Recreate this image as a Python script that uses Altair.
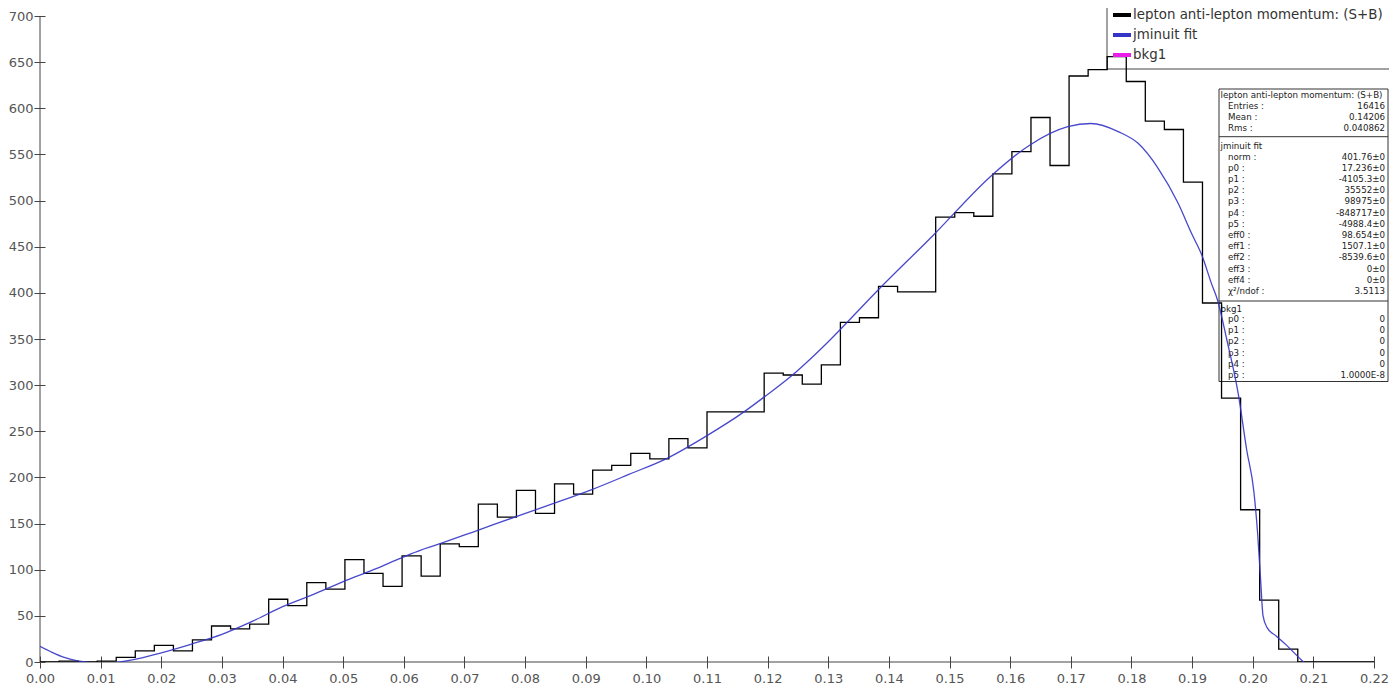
import altair as alt
import pandas as pd

# ---------------- data ----------------
N_BINS = 70
X_MIN, X_MAX = 0.0, 0.22

counts = [0, 1, 0, 1, 5, 12, 18, 12, 24, 39,
          36, 41, 68, 61, 86, 79, 111, 96, 82, 115,
          93, 128, 125, 171, 157, 186, 161, 193, 182, 208,
          213, 226, 220, 242, 232, 271, 271, 271, 313, 311,
          301, 322, 368, 373, 407, 401, 401, 482, 487, 483,
          529, 553, 590, 538, 635, 642, 656, 629, 586, 577,
          520, 389, 286, 165, 67, 14, 0, 0, 0, 0]

fit_x = [0.000, 0.002, 0.004, 0.006, 0.0075, 0.010, 0.0125, 0.015, 0.020, 0.025,
         0.030, 0.035, 0.040, 0.045, 0.050, 0.055, 0.060, 0.0627, 0.065, 0.0723,
         0.0783, 0.0846, 0.0909, 0.0972, 0.1035, 0.1098, 0.1161, 0.1194, 0.1243, 0.127,
         0.130, 0.1379, 0.1474, 0.1569, 0.1632, 0.1695, 0.1733, 0.1779, 0.1811, 0.1844,
         0.1877, 0.1899, 0.1916, 0.1932, 0.1942, 0.1957, 0.1976, 0.1990, 0.2002, 0.2008,
         0.2013, 0.2017, 0.2024, 0.2039, 0.2056, 0.2079, 0.2084]
fit_y = [17, 10.5, 5, 1.5, 0, -2, -0.5, 2, 10, 19.5,
         30, 44, 60, 73, 87, 100, 114, 121, 126, 143,
         157, 171.5, 186.5, 203.5, 221, 244.5, 271, 287, 312, 328,
         347, 401, 463, 527, 560, 580, 583.5, 574.5, 562, 535,
         497, 464.5, 441, 410, 392, 350, 291, 230, 184, 140,
         89, 50, 37, 28, 18, 3, 0]

series_names = ["lepton anti-lepton momentum: (S+B)", "jminuit fit", "bkg1"]
series_colors = ["#000000", "#3434c6", "#e81ee8"]

x_ticks = [0.00, 0.01, 0.02, 0.03, 0.04, 0.05, 0.06, 0.07, 0.08, 0.09, 0.10,
           0.11, 0.12, 0.13, 0.14, 0.15, 0.16, 0.17, 0.18, 0.19, 0.20, 0.21, 0.22]
y_ticks = [0, 50, 100, 150, 200, 250, 300, 350, 400, 450, 500, 550, 600, 650, 700]

# statistics box text
stat1_title = "lepton anti-lepton momentum: (S+B)"
stat1_labels = ["Entries :", "Mean :", "Rms :"]
stat1_values = ["16416", "0.14206", "0.040862"]
stat2_title = "jminuit fit"
stat2_labels = ["norm :", "p0 :", "p1 :", "p2 :", "p3 :", "p4 :", "p5 :",
                "eff0 :", "eff1 :", "eff2 :", "eff3 :", "eff4 :", "\u03c7\u00b2/ndof :"]
stat2_values = ["401.76\u00b10", "17.236\u00b10", "-4105.3\u00b10", "35552\u00b10",
                "98975\u00b10", "-848717\u00b10", "-4988.4\u00b10", "98.654\u00b10",
                "1507.1\u00b10", "-8539.6\u00b10", "0\u00b10", "0\u00b10", "3.5113"]
stat3_title = "bkg1"
stat3_labels = ["p0 :", "p1 :", "p2 :", "p3 :", "p4 :", "p5 :"]
stat3_values = ["0", "0", "0", "0", "0", "1.0000E-8"]

# ---------------- tables ----------------
bw = (X_MAX - X_MIN) / N_BINS
edges = [X_MIN + i * bw for i in range(N_BINS + 1)]
hist_df = pd.DataFrame({
    "x": edges,
    "y": counts + [counts[-1]],
    "series": series_names[0],
})
fit_df = pd.DataFrame({"x": fit_x, "y": fit_y, "series": series_names[1]})
one = pd.DataFrame({"k": [0]})

FONT = "DejaVu Sans"
xscale = alt.Scale(domain=[X_MIN, X_MAX], nice=False, zero=False)
yscale = alt.Scale(domain=[0, 700], nice=False)
color_scale = alt.Scale(domain=series_names, range=series_colors)

xaxis = alt.Axis(values=x_ticks, format=".2f", title=None, grid=False, domain=False,
                 offset=-6, tickSize=12, labelPadding=4, labelOverlap=False,
                 labelFlush=False, labelBound=False)
yaxis = alt.Axis(values=y_ticks, format="d", title=None, grid=False, domain=False,
                 offset=-5, tickSize=11, labelPadding=1, labelOverlap=False,
                 labelFlush=False, labelBound=False)

legend = alt.Legend(orient="none", legendX=1066, legendY=-17, title=None,
                    symbolType="stroke", symbolSize=324, symbolStrokeWidth=4,
                    labelFont=FONT, labelFontSize=13.4, labelColor="#333",
                    labelLimit=500, labelOffset=0, rowPadding=1, padding=5)

# legend frame (left and bottom edges; the rest lies outside the picture)
LEG_X0, LEG_Y0, LEG_Y1, LEG_X1 = 1067, -20, 53, 1370
leg_left = alt.Chart(one).mark_rule(color="#444", strokeWidth=1).encode(
    x=alt.value(LEG_X0), y=alt.value(LEG_Y0), y2=alt.value(LEG_Y1))
leg_bottom = alt.Chart(one).mark_rule(color="#444", strokeWidth=1).encode(
    x=alt.value(LEG_X0), x2=alt.value(LEG_X1), y=alt.value(LEG_Y1))

# ---------------- stats box ----------------
BOX_X0, BOX_X1, BOX_Y0, BOX_Y1 = 1179, 1348, 73, 365.5
box = alt.Chart(one).mark_rect(fill="white", stroke="#333", strokeWidth=1).encode(
    x=alt.value(BOX_X0), x2=alt.value(BOX_X1), y=alt.value(BOX_Y0), y2=alt.value(BOX_Y1))
sep1 = alt.Chart(one).mark_rule(color="#333", strokeWidth=1).encode(
    x=alt.value(BOX_X0), x2=alt.value(BOX_X1), y=alt.value(120.7))
sep2 = alt.Chart(one).mark_rule(color="#333", strokeWidth=1).encode(
    x=alt.value(BOX_X0), x2=alt.value(BOX_X1), y=alt.value(285))

SF = 8.7
LH = 11.2
def txt(lines, x, y, align):
    return alt.Chart(one).mark_text(
        text=lines, align=align, baseline="top", font=FONT, fontSize=SF,
        lineHeight=LH, color="#222").encode(x=alt.value(x), y=alt.value(y))

def title(s, x, y):
    return alt.Chart(one).mark_text(
        text=s, align="left", baseline="middle", font=FONT, fontSize=SF,
        color="#222").encode(x=alt.value(x), y=alt.value(y))

TX, LX, VX = 1180.5, 1188, 1345
OFF = 4
stats = [
    title(stat1_title, TX, 79),
    txt(stat1_labels, LX, 89.7 - OFF, "left"),
    txt(stat1_values, VX, 89.7 - OFF, "right"),
    title(stat2_title, TX, 129.7),
    txt(stat2_labels, LX, 140.7 - OFF, "left"),
    txt(stat2_values, VX, 140.7 - OFF, "right"),
    title(stat3_title, TX, 293),
    txt(stat3_labels, LX, 303 - OFF, "left"),
    txt(stat3_values, VX, 303 - OFF, "right"),
]

# ---------------- axes lines ----------------
xline = alt.Chart(pd.DataFrame({"a": [X_MIN], "b": [X_MAX], "c": [0]})).mark_rule(
    color="#444", strokeWidth=1).encode(
    x=alt.X("a:Q", scale=xscale, axis=xaxis), x2="b:Q",
    y=alt.Y("c:Q", scale=yscale, axis=yaxis))
yline = alt.Chart(pd.DataFrame({"a": [X_MIN], "c": [0], "d": [700]})).mark_rule(
    color="#444", strokeWidth=1).encode(
    x=alt.X("a:Q", scale=xscale), y=alt.Y("c:Q", scale=yscale), y2="d:Q")

# ---------------- data marks ----------------
hist = alt.Chart(hist_df).mark_line(interpolate="step-after", strokeWidth=1.3, clip=True).encode(
    x=alt.X("x:Q", scale=xscale),
    y=alt.Y("y:Q", scale=yscale),
    color=alt.Color("series:N", scale=color_scale, legend=legend),
)
curve = alt.Chart(fit_df).mark_line(interpolate="monotone", strokeWidth=1.3, strokeOpacity=0.9,
                                    clip=True).encode(
    x=alt.X("x:Q", scale=xscale),
    y=alt.Y("y:Q", scale=yscale),
    color=alt.Color("series:N", scale=color_scale, legend=legend),
)

chart = alt.layer(xline, yline, leg_left, leg_bottom, box, sep1, sep2, *stats,
                  hist, curve).properties(
    width=1334, height=646,
    padding={"left": 32, "top": 8, "right": 15, "bottom": 26},
    autosize=alt.AutoSizeParams(type="none"),
).configure_view(stroke=None).configure_axis(
    labelFont=FONT, labelFontSize=13, labelColor="#555",
    tickColor="#444", tickWidth=1,
)

chart.save("out.html", embed_options={"renderer": "svg", "actions": False})
